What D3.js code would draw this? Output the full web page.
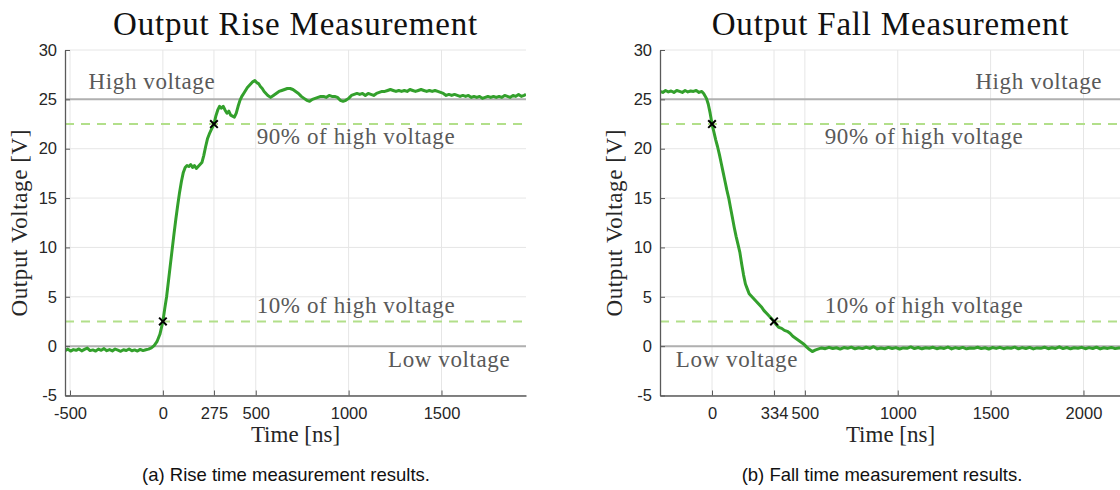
<!DOCTYPE html>
<meta charset="UTF-8">
<style>
	body { margin: 0; background: #fff; }
	.serif { font-family: "Liberation Serif", "Times New Roman", serif; }
	.sans { font-family: "Liberation Sans", Arial, sans-serif; }
	.grid line { stroke: #e6e6e6; stroke-width: 1px; }
	.axis path, .axis line { stroke: #5a5a5a; }
	.axis text { fill: #262626; font-family: "Liberation Sans", Arial, sans-serif; font-size: 16.5px; }
</style>
<body>
<script src="https://cdnjs.cloudflare.com/ajax/libs/d3/7.8.5/d3.min.js"></script>
<script>

	// ---- data (time in ns, voltage in V) ----
	const highVoltage = 25;
	const yTicks = [-5, 0, 5, 10, 15, 20, 25, 30];

	const riseTicks = [-500, 0, 275, 500, 1000, 1500];
	const riseCross = [[0, 2.5], [275, 22.5]];
	const riseWave = [
		[-527, -0.45], [-512, -0.30], [-497, -0.50], [-482, -0.35], [-467, -0.42], [-452, -0.28],
		[-437, -0.48], [-422, -0.33], [-407, -0.20], [-392, -0.45], [-377, -0.38], [-362, -0.50],
		[-347, -0.30], [-332, -0.42], [-317, -0.25], [-302, -0.46], [-287, -0.35], [-272, -0.48],
		[-257, -0.30], [-242, -0.40], [-227, -0.52], [-212, -0.36], [-197, -0.44], [-182, -0.29],
		[-167, -0.47], [-152, -0.38], [-137, -0.50], [-122, -0.33], [-107, -0.45], [-92, -0.36],
		[-77, -0.30], [-62, -0.18], [-47, 0.05], [-32, 0.45], [-16, 1.20], [0, 2.50],
		[10, 3.80], [20, 5.00], [30, 6.60], [40, 8.20], [50, 9.80], [60, 11.4], [70, 12.9],
		[80, 14.3], [90, 15.6], [100, 16.7], [110, 17.6], [120, 18.1], [130, 18.3], [140, 18.2],
		[150, 18.4], [160, 18.1], [170, 18.3], [180, 18.0], [190, 18.2], [200, 18.4], [210, 18.6],
		[220, 19.3], [230, 20.2], [240, 21.0], [250, 21.5], [260, 21.9], [270, 22.3], [275, 22.5],
		[285, 23.3], [295, 23.9], [305, 24.3], [315, 24.1], [325, 24.3], [335, 23.9], [345, 23.6],
		[355, 23.8], [365, 23.4], [375, 23.3], [385, 23.2], [395, 23.6], [405, 24.3], [415, 24.9],
		[425, 25.3], [435, 25.6], [445, 25.9], [455, 26.2], [465, 26.4], [475, 26.6], [485, 26.8],
		[495, 26.9], [505, 26.7], [515, 26.6], [525, 26.3], [535, 26.1], [545, 25.8], [555, 25.6],
		[565, 25.4], [580, 25.2], [595, 25.4], [610, 25.6], [625, 25.8], [640, 25.9], [655, 26.0],
		[670, 26.1], [685, 26.1], [700, 26.0], [715, 25.8], [730, 25.6], [745, 25.3], [760, 25.1],
		[775, 24.9], [790, 24.8], [805, 25.0], [820, 25.1], [835, 25.2], [850, 25.3], [865, 25.3],
		[880, 25.2], [895, 25.4], [910, 25.3], [925, 25.3], [940, 25.2], [955, 24.9], [970, 24.8],
		[985, 24.9], [1000, 25.1], [1015, 25.4], [1030, 25.5], [1045, 25.6], [1060, 25.5], [1075, 25.6],
		[1090, 25.4], [1105, 25.6], [1120, 25.5], [1135, 25.4], [1150, 25.6], [1165, 25.7], [1180, 25.8],
		[1195, 25.8], [1210, 25.9], [1225, 26.0], [1240, 25.9], [1255, 25.8], [1270, 25.9], [1285, 25.8],
		[1300, 25.9], [1315, 25.8], [1330, 26.0], [1345, 25.9], [1360, 25.8], [1375, 25.9], [1390, 26.0],
		[1405, 25.9], [1420, 25.8], [1435, 25.9], [1450, 25.8], [1465, 25.9], [1480, 25.8], [1495, 25.7],
		[1510, 25.6], [1525, 25.4], [1540, 25.5], [1555, 25.4], [1570, 25.5], [1585, 25.4], [1600, 25.3],
		[1615, 25.4], [1630, 25.3], [1645, 25.4], [1660, 25.2], [1675, 25.3], [1690, 25.2], [1705, 25.3],
		[1720, 25.1], [1735, 25.2], [1750, 25.3], [1765, 25.2], [1780, 25.3], [1795, 25.2], [1810, 25.3],
		[1825, 25.2], [1840, 25.4], [1855, 25.3], [1870, 25.2], [1885, 25.4], [1900, 25.3], [1915, 25.5],
		[1930, 25.3], [1945, 25.4], [1955, 25.5]
	];

	const fallTicks = [0, 334, 500, 1000, 1500, 2000];
	const fallCross = [[0, 22.5], [334, 2.5]];
	const fallWave = [
		[-280, 25.80], [-265, 25.70], [-250, 25.90], [-235, 25.75], [-220, 25.85], [-205, 25.70],
		[-190, 25.90], [-175, 25.80], [-160, 25.70], [-145, 25.90], [-130, 25.75], [-115, 25.85],
		[-100, 25.80], [-85, 25.90], [-70, 25.70], [-55, 25.80], [-45, 25.60], [-30, 25.10],
		[-20, 24.5], [-10, 23.6], [0, 22.5], [10, 21.7], [20, 20.9], [30, 20.2], [40, 19.4],
		[50, 18.5], [60, 17.6], [70, 16.7], [80, 15.8], [90, 15.0], [100, 14.0], [110, 13.0],
		[120, 12.0], [130, 11.1], [140, 10.3], [150, 9.5], [160, 8.3], [170, 7.2], [180, 6.3],
		[190, 5.8], [200, 5.3], [210, 5.1], [220, 4.9], [235, 4.6], [250, 4.3], [265, 4.0],
		[280, 3.6], [295, 3.3], [310, 3.0], [320, 2.8], [334, 2.5], [345, 2.2], [360, 1.9],
		[375, 1.8], [390, 1.6], [405, 1.5], [420, 1.3], [435, 1.0], [450, 0.8], [465, 0.6],
		[480, 0.4], [495, 0.2], [510, -0.10], [525, -0.35], [540, -0.55], [555, -0.40],
		[570, -0.30], [590, -0.18], [610, -0.26], [630, -0.12], [650, -0.24], [670, -0.16],
		[690, -0.30], [710, -0.14], [730, -0.22], [750, -0.10], [770, -0.27], [790, -0.17],
		[810, -0.25], [830, -0.11], [850, -0.23], [870, -0.06], [890, -0.28], [910, -0.19],
		[930, -0.26], [950, -0.13], [970, -0.24], [990, -0.15], [1010, -0.29], [1030, -0.18],
		[1050, -0.22], [1070, -0.08], [1090, -0.25], [1110, -0.14], [1130, -0.27], [1150, -0.16],
		[1170, -0.21], [1190, -0.12], [1210, -0.26], [1230, -0.17], [1250, -0.23], [1270, -0.09],
		[1290, -0.28], [1310, -0.15], [1330, -0.24], [1350, -0.13], [1370, -0.27], [1390, -0.18],
		[1410, -0.22], [1430, -0.11], [1450, -0.25], [1470, -0.16], [1490, -0.29], [1510, -0.14],
		[1530, -0.23], [1550, -0.12], [1570, -0.26], [1590, -0.17], [1610, -0.21], [1630, -0.10],
		[1650, -0.27], [1670, -0.15], [1690, -0.24], [1710, -0.13], [1730, -0.28], [1750, -0.18],
		[1770, -0.22], [1790, -0.11], [1810, -0.26], [1830, -0.16], [1850, -0.23], [1870, -0.07],
		[1890, -0.25], [1910, -0.14], [1930, -0.27], [1950, -0.17], [1970, -0.22], [1990, -0.12],
		[2010, -0.26], [2030, -0.15], [2050, -0.24], [2070, -0.10], [2090, -0.28], [2110, -0.16],
		[2130, -0.23], [2150, -0.13], [2170, -0.25], [2190, -0.18], [2202, -0.21]
	];

	// text notes placed in data units: [text, time, volt, anchor]
	const riseNotes = [
		["High voltage", -400, 26.0, "start"],
		["90% of high voltage", 505, 20.5, "start"],
		["10% of high voltage", 505, 3.4, "start"],
		["Low voltage", 1870, -2.1, "end"]
	];
	const fallNotes = [
		["High voltage", 2100, 26.0, "end"],
		["90% of high voltage", 607, 20.5, "start"],
		["10% of high voltage", 607, 3.4, "start"],
		["Low voltage", -195, -2.1, "start"]
	];

	const W = 1120, H = 490;
	const plotTop = 50, plotBottom = 395.5;

	const svg = d3.select("body").append("svg")
		.attr("width", W)
		.attr("height", H);

	// plain hyphen for negatives, like the original figure
	const fmt = d => String(d);

	const drawPanel = (cfg) => {
		const x = d3.scaleLinear().domain(cfg.domain).range([cfg.left, cfg.right]);
		const y = d3.scaleLinear().domain([-5, 30]).range([plotBottom, plotTop]);
		const g = svg.append("g");
		const cx = (cfg.left + cfg.right) / 2;

		// grid
		const grid = g.append("g").attr("class", "grid");
		grid.selectAll("line.v").data(cfg.ticks).enter().append("line")
			.attr("x1", d => x(d)).attr("x2", d => x(d))
			.attr("y1", plotTop).attr("y2", plotBottom);
		grid.selectAll("line.h").data(yTicks).enter().append("line")
			.attr("x1", cfg.left).attr("x2", cfg.right)
			.attr("y1", d => y(d)).attr("y2", d => y(d));

		// high / low reference lines
		g.selectAll("line.ref").data([0, highVoltage]).enter().append("line")
			.attr("x1", cfg.left).attr("x2", cfg.right)
			.attr("y1", d => y(d)).attr("y2", d => y(d))
			.attr("stroke", "#b0b0b0").attr("stroke-width", 2);

		// 10% / 90% thresholds
		g.selectAll("line.thr").data([0.1 * highVoltage, 0.9 * highVoltage]).enter().append("line")
			.attr("x1", cfg.left).attr("x2", cfg.right)
			.attr("y1", d => y(d)).attr("y2", d => y(d))
			.attr("stroke", "#b2df8a").attr("stroke-width", 2)
			.attr("stroke-dasharray", "9,7");

		// waveform
		const clipId = "clip" + cfg.name;
		g.append("clipPath").attr("id", clipId).append("rect")
			.attr("x", cfg.left).attr("y", plotTop)
			.attr("width", cfg.right - cfg.left).attr("height", plotBottom - plotTop);
		g.append("path")
			.datum(cfg.wave)
			.attr("clip-path", `url(#${clipId})`)
			.attr("fill", "none")
			.attr("stroke", "#33a02c")
			.attr("stroke-width", 3)
			.attr("stroke-linejoin", "round")
			.attr("d", d3.line().x(d => x(d[0])).y(d => y(d[1])));

		// crossing markers
		const s = 3.8;
		g.selectAll("path.mark").data(cfg.cross).enter().append("path")
			.attr("d", d => {
				const px = x(d[0]), py = y(d[1]);
				return `M${px - s},${py - s}L${px + s},${py + s}M${px - s},${py + s}L${px + s},${py - s}`;
			})
			.attr("stroke", "#000").attr("stroke-width", 2);

		// notes
		g.selectAll("text.note").data(cfg.notes).enter().append("text")
			.attr("class", "serif")
			.attr("x", d => x(d[1]))
			.attr("y", d => y(d[2]))
			.attr("text-anchor", d => d[3])
			.attr("fill", "#595959")
			.style("font-size", "23px")
			.style("letter-spacing", "0.6px")
			.text(d => d[0]);

		// axes
		const xAxis = g.append("g").attr("class", "axis")
			.attr("transform", `translate(0,${plotBottom})`)
			.call(d3.axisBottom(x).tickValues(cfg.ticks).tickSizeInner(-5).tickSizeOuter(0).tickPadding(12).tickFormat(fmt));
		xAxis.select(".domain").attr("stroke-width", 1.3);
		const yAxis = g.append("g").attr("class", "axis")
			.attr("transform", `translate(${cfg.left},0)`)
			.call(d3.axisLeft(y).tickValues(yTicks).tickSizeInner(-5).tickSizeOuter(0).tickPadding(8).tickFormat(fmt));
		yAxis.select(".domain").attr("stroke-width", 1.3);

		// titles and labels
		g.append("text").attr("class", "serif")
			.attr("x", cx).attr("y", 35)
			.attr("text-anchor", "middle")
			.style("font-size", "33px").style("letter-spacing", "0.8px")
			.attr("fill", "#111")
			.text(cfg.title);
		g.append("text").attr("class", "serif")
			.attr("x", cx).attr("y", 442)
			.attr("text-anchor", "middle")
			.style("font-size", "23px")
			.attr("fill", "#262626")
			.text("Time [ns]");
		g.append("text").attr("class", "serif")
			.attr("transform", `translate(${cfg.left - 38},${(plotTop + plotBottom) / 2}) rotate(-90)`)
			.attr("text-anchor", "middle")
			.style("font-size", "23px").style("letter-spacing", "0.6px")
			.attr("fill", "#262626")
			.text("Output Voltage [V]");
		g.append("text").attr("class", "sans")
			.attr("x", cfg.captionX).attr("y", 481)
			.attr("text-anchor", "middle")
			.style("font-size", "18.5px")
			.attr("fill", "#111")
			.text(cfg.caption);
	};

	drawPanel({
		name: "rise", left: 65, right: 526, domain: [-527, 1955],
		ticks: riseTicks, wave: riseWave, cross: riseCross, notes: riseNotes,
		title: "Output Rise Measurement", caption: "(a) Rise time measurement results.", captionX: 286
	});
	drawPanel({
		name: "fall", left: 660, right: 1121, domain: [-280, 2202],
		ticks: fallTicks, wave: fallWave, cross: fallCross, notes: fallNotes,
		title: "Output Fall Measurement", caption: "(b) Fall time measurement results.", captionX: 882
	});

</script>
</body>
